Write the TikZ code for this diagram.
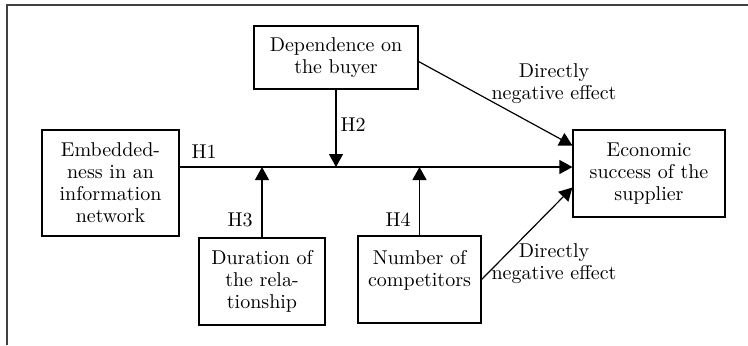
\documentclass[tikz,border=0pt]{standalone}
\usepackage{amsmath}
\usetikzlibrary{arrows.meta}

\begin{document}
\begin{tikzpicture}[x=0.5pt,y=-0.5pt,
    block/.style={draw,line width=0.6pt,align=center,font=\fontsize{10}{11}\selectfont,
                  inner sep=2pt},
    flow/.style={-{Triangle[length=6.5pt,width=7pt]},line width=0.6pt},
    tag/.style={font=\fontsize{10}{11}\selectfont,align=center,inner sep=0pt}
]
\useasboundingbox (0,0) rectangle (748,345);
\draw[line width=0.6pt,black!75] (7,345)--(7,5)--(748,5);
\node[block,minimum width=82pt,minimum height=31.5pt] (dep) at (336,57.5) {Dependence on\\the buyer};
\node[block,minimum width=68.5pt,minimum height=53pt] (emb) at (110.5,183) {Embedded-\\ness in an\\information\\network};
\node[block,minimum width=76pt,minimum height=43.5pt] (econ) at (649,173.5) {Economic\\success of the\\supplier};
\node[block,minimum width=63pt,minimum height=43.5pt] (dur) at (262,281.5) {Duration of\\the rela-\\tionship};
\node[block,minimum width=61.5pt,minimum height=43.5pt] (num) at (419.5,279.5) {Number of\\competitors\\~};
\coordinate (h1start) at ([yshift=8pt]emb.east);
\draw[flow] (h1start)--(econ.west |- h1start);
\draw[flow] (dep.south)--(dep.south |- h1start);
\draw[flow] (dur.north)--(dur.north |- h1start);
\draw[flow] (num.north)--(num.north |- h1start);
\draw[flow] ([yshift=-2pt]dep.east)--([yshift=14pt]econ.west);
\draw[flow] (num.east)--([yshift=-7pt]econ.west);
\node[tag] (h1) at (204,152) {H1};
\node[tag] (h2) at (353,125) {H2};
\node[tag] (h3) at (240,220) {H3};
\node[tag] (h4) at (398,220) {H4};
\node[tag] (neg1) at (554,84) {Directly\\negative effect};
\node[tag] (neg2) at (554,264) {Directly\\negative effect};
\end{tikzpicture}
\end{document}
